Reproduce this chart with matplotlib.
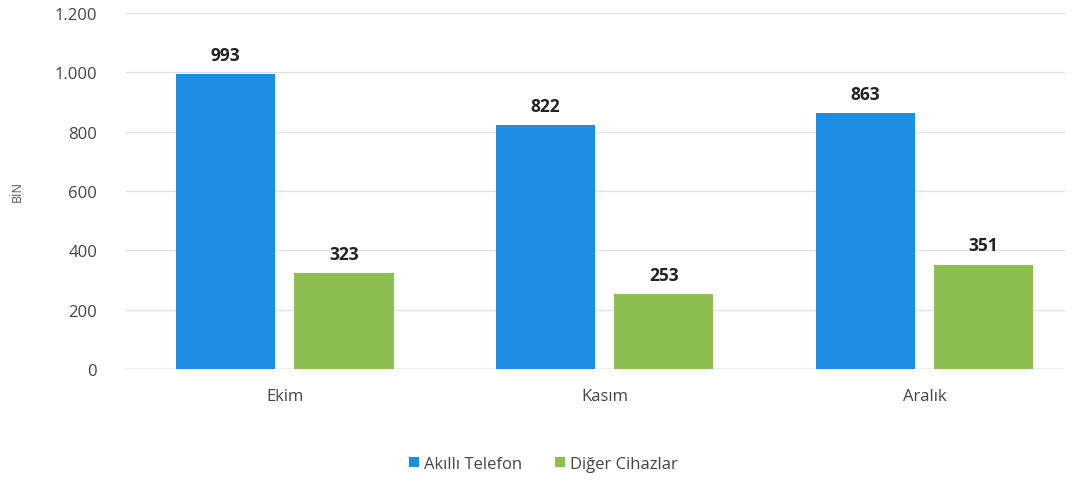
import numpy as np
import matplotlib.pyplot as plt
from matplotlib.ticker import FuncFormatter

months = ["Ekim", "Kasım", "Aralık"]
smartphone = [993, 822, 863]
other = [323, 253, 351]
series_names = ["Akıllı Telefon", "Diğer Cihazlar"]
colors = ["#1f8ee0", "#8cbf4f"]

plt.rcParams['font.family'] = ['Open Sans', 'DejaVu Sans']

fig = plt.figure(figsize=(10.87, 4.81), dpi=100)
ax = fig.add_axes([125 / 1087, 111 / 481, 940 / 1087, 356 / 481])

x = np.arange(len(months))
w = 0.31
gap = 0.06
b1 = ax.bar(x - (w + gap) / 2, smartphone, w, color=colors[0], label=series_names[0], zorder=3)
b2 = ax.bar(x + (w + gap) / 2, other, w, color=colors[1], label=series_names[1], zorder=3)

for bars in (b1, b2):
    for r in bars:
        ax.text(r.get_x() + r.get_width() / 2, r.get_height() + 35, str(int(r.get_height())),
                ha='center', va='bottom', fontsize=12.5, fontweight='bold', color='#222222')

ax.set_ylim(0, 1200)
ax.set_xlim(-0.5, 2.44)
ax.set_yticks(range(0, 1201, 200))
ax.yaxis.set_major_formatter(FuncFormatter(lambda v, p: f"{int(v):,}".replace(",", ".")))
ax.set_xticks(x)
ax.set_xticklabels(months)
ax.tick_params(axis='both', length=0, labelsize=12, colors='#444444')
ax.tick_params(axis='y', pad=20)
ax.tick_params(axis='x', pad=14)
ax.grid(axis='y', color='#e2e2e2', linewidth=1, zorder=0)
for s in ax.spines.values():
    s.set_visible(False)
ax.axhline(0, color='#cccccc', linewidth=1, zorder=2)

ax.set_ylabel("BİN", fontsize=9, color='#555555', labelpad=22)

fig.legend(handles=[b1, b2], loc='center', bbox_to_anchor=(0.5, 1 - 465 / 481), ncol=2,
           frameon=False, fontsize=12, handlelength=0.6, handleheight=0.6,
           columnspacing=2.0, handletextpad=0.3, labelcolor='#444444')

fig.savefig("out.png", dpi=100)
